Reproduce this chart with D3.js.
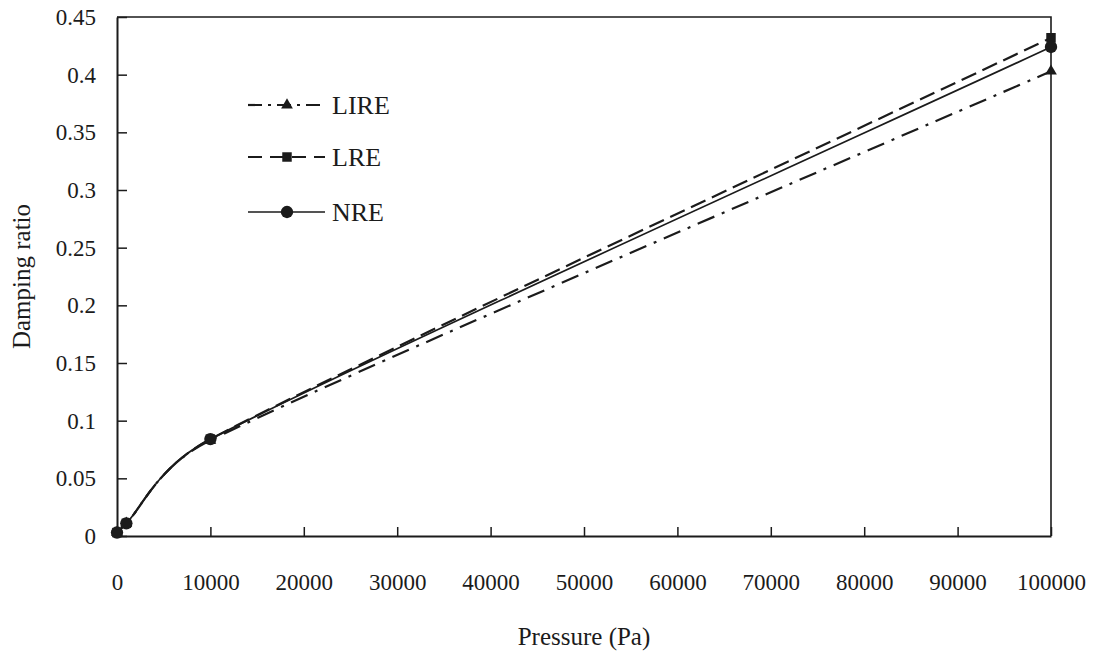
<!DOCTYPE html>
<html>
<head>
<meta charset="utf-8">
<script src="https://cdn.jsdelivr.net/npm/d3@7"></script>
<style>
  html, body { margin: 0; padding: 0; background: #fff; }
  svg { display: block; }
  svg text { font-family: "Liberation Serif", "Times New Roman", Times, "DejaVu Serif", serif; }
</style>
</head>
<body>
<svg id="chart" width="1098" height="651"></svg>
<script>
// Pressure levels (Pa) and damping ratio for each model
const pressure = [0, 1000, 10000, 100000];
const lire = [0.003, 0.011, 0.083, 0.403];
const lre  = [0.003, 0.011, 0.084, 0.432];
const nre  = [0.003, 0.011, 0.084, 0.424];
const xTicks = [0, 10000, 20000, 30000, 40000, 50000, 60000, 70000, 80000, 90000, 100000];
const yTicks = [0, 0.05, 0.1, 0.15, 0.2, 0.25, 0.3, 0.35, 0.4, 0.45];
const seriesNames = ["LIRE", "LRE", "NRE"];

const svg = d3.select("#chart");
const m = { left: 117, right: 1051, top: 17, bottom: 536 };
const ink = "#1b1b1b";

const x = d3.scaleLinear().domain([0, 100000]).range([m.left, m.right]);
const y = d3.scaleLinear().domain([0, 0.45]).range([m.bottom, m.top]);

// Smoothed Bezier curve: control arms follow the neighbouring points (tension 1/6),
// shortened to half the segment length where the neighbours are far away.
function SmoothCurve(context) { this._context = context; }
SmoothCurve.prototype = {
  areaStart() {}, areaEnd() {},
  lineStart() { this._pts = []; },
  point(px, py) { this._pts.push([px, py]); },
  lineEnd() {
    const p = this._pts, c = this._context, n = p.length;
    if (!n) return;
    c.moveTo(p[0][0], p[0][1]);
    const dist = (a, b) => Math.hypot(a[0] - b[0], a[1] - b[1]);
    for (let i = 0; i < n - 1; i++) {
      const p0 = p[Math.max(i - 1, 0)], p1 = p[i], p2 = p[i + 1], p3 = p[Math.min(i + 2, n - 1)];
      const d12 = dist(p1, p2), d02 = dist(p0, p2) || 1, d13 = dist(p1, p3) || 1;
      const f1 = Math.min(1 / 6, d12 / (2 * d02));
      const f2 = Math.min(1 / 6, d12 / (2 * d13));
      c.bezierCurveTo(
        p1[0] + (p2[0] - p0[0]) * f1, p1[1] + (p2[1] - p0[1]) * f1,
        p2[0] - (p3[0] - p1[0]) * f2, p2[1] - (p3[1] - p1[1]) * f2,
        p2[0], p2[1]);
    }
  }
};
const smooth = ctx => new SmoothCurve(ctx);

// Plot frame (top and right edges)
svg.append("path")
  .attr("d", `M${m.left},${m.top}H${m.right}V${m.bottom}`)
  .attr("fill", "none").attr("stroke", ink).attr("stroke-width", 1.6);

// Axes with inward ticks
const xAxis = svg.append("g")
  .attr("transform", `translate(0,${m.bottom})`)
  .call(d3.axisBottom(x).tickValues(xTicks).tickFormat(d3.format("d"))
    .tickSizeInner(-9).tickSizeOuter(0).tickPadding(38));
const yAxis = svg.append("g")
  .attr("transform", `translate(${m.left},0)`)
  .call(d3.axisLeft(y).tickValues(yTicks).tickFormat(d => d === 0 ? "0" : String(d))
    .tickSizeInner(-10).tickSizeOuter(0).tickPadding(21));

[xAxis, yAxis].forEach(g => {
  g.attr("font-size", 23);
  g.select(".domain").attr("stroke", ink).attr("stroke-width", 2);
  g.selectAll(".tick line").attr("stroke", ink).attr("stroke-width", 1.5);
  g.selectAll(".tick text").attr("fill", ink);
});

// Axis titles
svg.append("text")
  .attr("x", (m.left + m.right) / 2).attr("y", 645)
  .attr("text-anchor", "middle").attr("fill", ink)
  .attr("font-size", 25).text("Pressure (Pa)");
svg.append("text")
  .attr("transform", `translate(30,${(m.top + m.bottom) / 2}) rotate(-90)`)
  .attr("text-anchor", "middle").attr("fill", ink)
  .attr("font-size", 25).text("Damping ratio");

// Series styling
const series = [
  { name: seriesNames[0], values: lire, dash: "18,8,3,8", width: 2.2, marker: "triangle" },
  { name: seriesNames[1], values: lre,  dash: "16,7",     width: 2.2, marker: "square" },
  { name: seriesNames[2], values: nre,  dash: null,       width: 1.7, marker: "circle" }
];

const symbolOf = {
  triangle: d3.symbol().type(d3.symbolTriangle).size(60),
  square: d3.symbol().type(d3.symbolSquare).size(90),
  circle: d3.symbol().type(d3.symbolCircle).size(120)
};

const line = d3.line()
  .x((d, i) => x(pressure[i]))
  .y(d => y(d))
  .curve(smooth);

series.forEach(s => {
  svg.append("path")
    .attr("d", line(s.values))
    .attr("fill", "none").attr("stroke", ink)
    .attr("stroke-width", s.width)
    .attr("stroke-dasharray", s.dash);
});

series.forEach(s => {
  svg.append("g").selectAll("path")
    .data(s.values).join("path")
    .attr("transform", (d, i) => `translate(${x(pressure[i])},${y(d)})`)
    .attr("d", symbolOf[s.marker]())
    .attr("fill", ink);
});

// Legend
const legendY = [105, 157, 212];
series.forEach((s, i) => {
  const g = svg.append("g").attr("transform", `translate(248,${legendY[i]})`);
  g.append("line").attr("x1", 0).attr("x2", 77).attr("y1", 0).attr("y2", 0)
    .attr("stroke", ink).attr("stroke-width", s.width)
    .attr("stroke-dasharray", s.dash ? (i === 0 ? "14,6,3,6" : "14,8") : null);
  g.append("path").attr("transform", "translate(39,0)")
    .attr("d", symbolOf[s.marker]()).attr("fill", ink);
  g.append("text").attr("x", 84).attr("y", 0).attr("dy", "0.35em")
    .attr("fill", ink).attr("font-size", 26).text(s.name);
});
</script>
</body>
</html>
